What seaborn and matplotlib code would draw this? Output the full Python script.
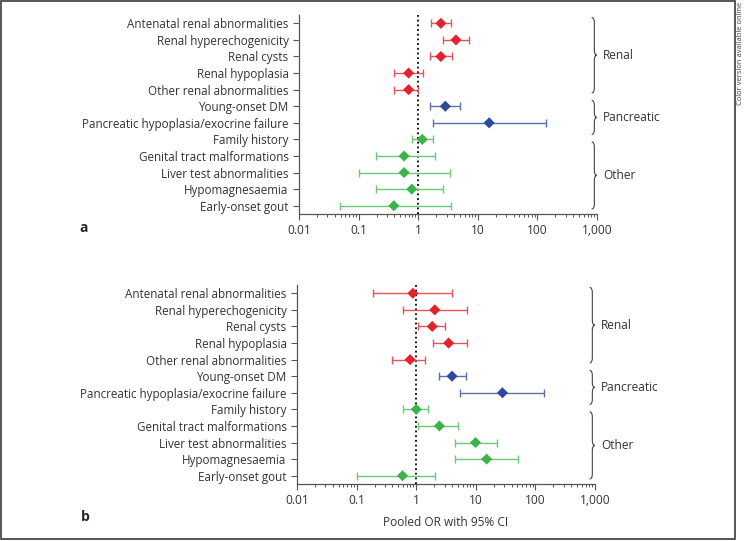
"""Forest plots of pooled odds ratios by clinical feature (panels a and b)."""
import matplotlib.pyplot as plt
import numpy as np
import pandas as pd
import seaborn as sns
from matplotlib.patches import PathPatch, Rectangle
from matplotlib.path import Path
from matplotlib.ticker import FixedLocator, LogLocator, NullFormatter
from matplotlib.transforms import blended_transform_factory

FEATURES = [
    "Antenatal renal abnormalities",
    "Renal hyperechogenicity",
    "Renal cysts",
    "Renal hypoplasia",
    "Other renal abnormalities",
    "Young-onset DM",
    "Pancreatic hypoplasia/exocrine failure",
    "Family history",
    "Genital tract malformations",
    "Liver test abnormalities",
    "Hypomagnesaemia",
    "Early-onset gout",
]
GROUPS = ["Renal"] * 5 + ["Pancreatic"] * 2 + ["Other"] * 5
GROUP_ORDER = ["Renal", "Pancreatic", "Other"]

# panel a
OR_A = [2.4, 4.3, 2.4, 0.69, 0.69, 2.85, 15.5, 1.17, 0.58, 0.58, 0.78, 0.39]
LOW_A = [1.65, 2.65, 1.57, 0.39, 0.39, 1.57, 1.75, 0.79, 0.195, 0.1, 0.195, 0.049]
HIGH_A = [3.5, 7.0, 3.7, 1.2, 1.0, 4.95, 137, 1.75, 1.95, 3.45, 2.65, 3.55]

# panel b
OR_B = [0.88, 2.05, 1.86, 3.5, 0.79, 4.0, 28, 1.0, 2.45, 9.9, 15.2, 0.59]
LOW_B = [0.19, 0.6, 1.08, 1.9, 0.4, 2.4, 5.5, 0.6, 1.08, 4.5, 4.5, 0.1]
HIGH_B = [3.95, 7.0, 3.1, 7.1, 1.38, 6.8, 138, 1.57, 5.1, 22.5, 51, 2.05]

X_TICKS = [0.01, 0.1, 1, 10, 100, 1000]
X_TICK_LABELS = ["0.01", "0.1", "1", "10", "100", "1,000"]

MARKER_COLORS = {"Renal": "#e3232b", "Pancreatic": "#2d4a9a", "Other": "#3cb44b"}
LINE_COLORS = {"Renal": "#e8525a", "Pancreatic": "#5a70b0", "Other": "#6cc779"}
TEXT = "#333333"
SPINE = "#555555"

# brace extents in row units (top, bottom)
BRACES = {"Renal": (-0.35, 4.2), "Pancreatic": (4.65, 6.7), "Other": (7.15, 11.2)}


def draw_brace(ax, y0, y1, label):
    trans = blended_transform_factory(ax.transAxes, ax.transData)
    x0, xm, xt = 0.982, 0.991, 1.0
    r = 0.3
    mid = (y0 + y1) / 2
    verts = [
        (x0, y0), (xm, y0), (xm, y0 + r),
        (xm, mid - r),
        (xm, mid), (xt, mid),
        (xm, mid), (xm, mid + r),
        (xm, y1 - r),
        (xm, y1), (x0, y1),
    ]
    codes = [Path.MOVETO, Path.CURVE3, Path.CURVE3, Path.LINETO,
             Path.CURVE3, Path.CURVE3, Path.CURVE3, Path.CURVE3,
             Path.LINETO, Path.CURVE3, Path.CURVE3]
    patch = PathPatch(Path(verts, codes), transform=trans, facecolor="none",
                      edgecolor="#444444", linewidth=0.8, clip_on=False)
    ax.add_patch(patch)
    ax.text(1.02, mid, label, transform=trans, ha="left", va="center",
            fontsize=8.6, color=TEXT)


def draw_panel(ax, odds, low, high, xlabel=None):
    df = pd.DataFrame({"feature": FEATURES, "group": GROUPS,
                       "odds": odds, "low": low, "high": high})
    df["row"] = np.arange(len(df))

    ax.axvline(1, color="black", linestyle=(0, (1, 1.6)), linewidth=1.3, zorder=1)
    for group, sub in df.groupby("group"):
        ax.errorbar(sub["odds"], sub["row"],
                    xerr=[sub["odds"] - sub["low"], sub["high"] - sub["odds"]],
                    fmt="none", ecolor=LINE_COLORS[group], elinewidth=1.0,
                    capsize=2.6, capthick=1.0, zorder=2)
    sns.scatterplot(data=df, x="odds", y="row", hue="group", hue_order=GROUP_ORDER,
                    palette=MARKER_COLORS, marker="D", s=32, edgecolor="none",
                    legend=False, ax=ax, zorder=3)

    ax.set_xscale("log")
    ax.set_xlim(0.01, 1000)
    ax.xaxis.set_major_locator(FixedLocator(X_TICKS))
    ax.set_xticklabels(X_TICK_LABELS)
    ax.xaxis.set_minor_locator(LogLocator(base=10, subs=np.arange(2, 10)))
    ax.xaxis.set_minor_formatter(NullFormatter())
    ax.set_yticks(df["row"])
    ax.set_yticklabels(df["feature"])
    ax.set_ylim(11.5, -0.5)
    ax.set_xlabel(xlabel or "", fontsize=8.6, color=TEXT, labelpad=6)
    ax.set_ylabel("")

    ax.tick_params(axis="both", which="major", length=4.5, width=0.8,
                   color=SPINE, labelcolor=TEXT, pad=3)
    ax.tick_params(axis="y", labelsize=8.4)
    ax.tick_params(axis="x", labelsize=8.6)
    ax.tick_params(axis="x", which="minor", length=2.5, width=0.7, color=SPINE)
    sns.despine(ax=ax)
    for side in ("left", "bottom"):
        ax.spines[side].set_color(SPINE)
        ax.spines[side].set_linewidth(0.9)

    for group in GROUP_ORDER:
        draw_brace(ax, *BRACES[group], group)


sns.set_style("ticks")
plt.rcParams["font.family"] = ["Open Sans", "DejaVu Sans"]

fig = plt.figure(figsize=(7.46, 5.41), dpi=100)
ax_a = fig.add_axes([0.4008, 0.6044, 0.3995, 0.3678])
ax_b = fig.add_axes([0.3981, 0.1054, 0.3995, 0.3678])
draw_panel(ax_a, OR_A, LOW_A, HIGH_A)
draw_panel(ax_b, OR_B, LOW_B, HIGH_B, xlabel="Pooled OR with 95% CI")

fig.text(84 / 746, 1 - 228 / 541, "a", fontsize=10, fontweight="bold", ha="center", va="center")
fig.text(85 / 746, 1 - 517 / 541, "b", fontsize=10, fontweight="bold", ha="center", va="center")
fig.text(741 / 746, 1 - 2 / 541, "Color version available online", rotation=90,
         ha="center", va="top", fontsize=5.5, color="#444444")
fig.add_artist(Rectangle((0.5 / 746, 2 / 541), 734 / 746, 538.5 / 541,
                         transform=fig.transFigure, fill=False,
                         edgecolor="#3a3a3a", linewidth=1.2))

fig.savefig("out.png", dpi=100)
